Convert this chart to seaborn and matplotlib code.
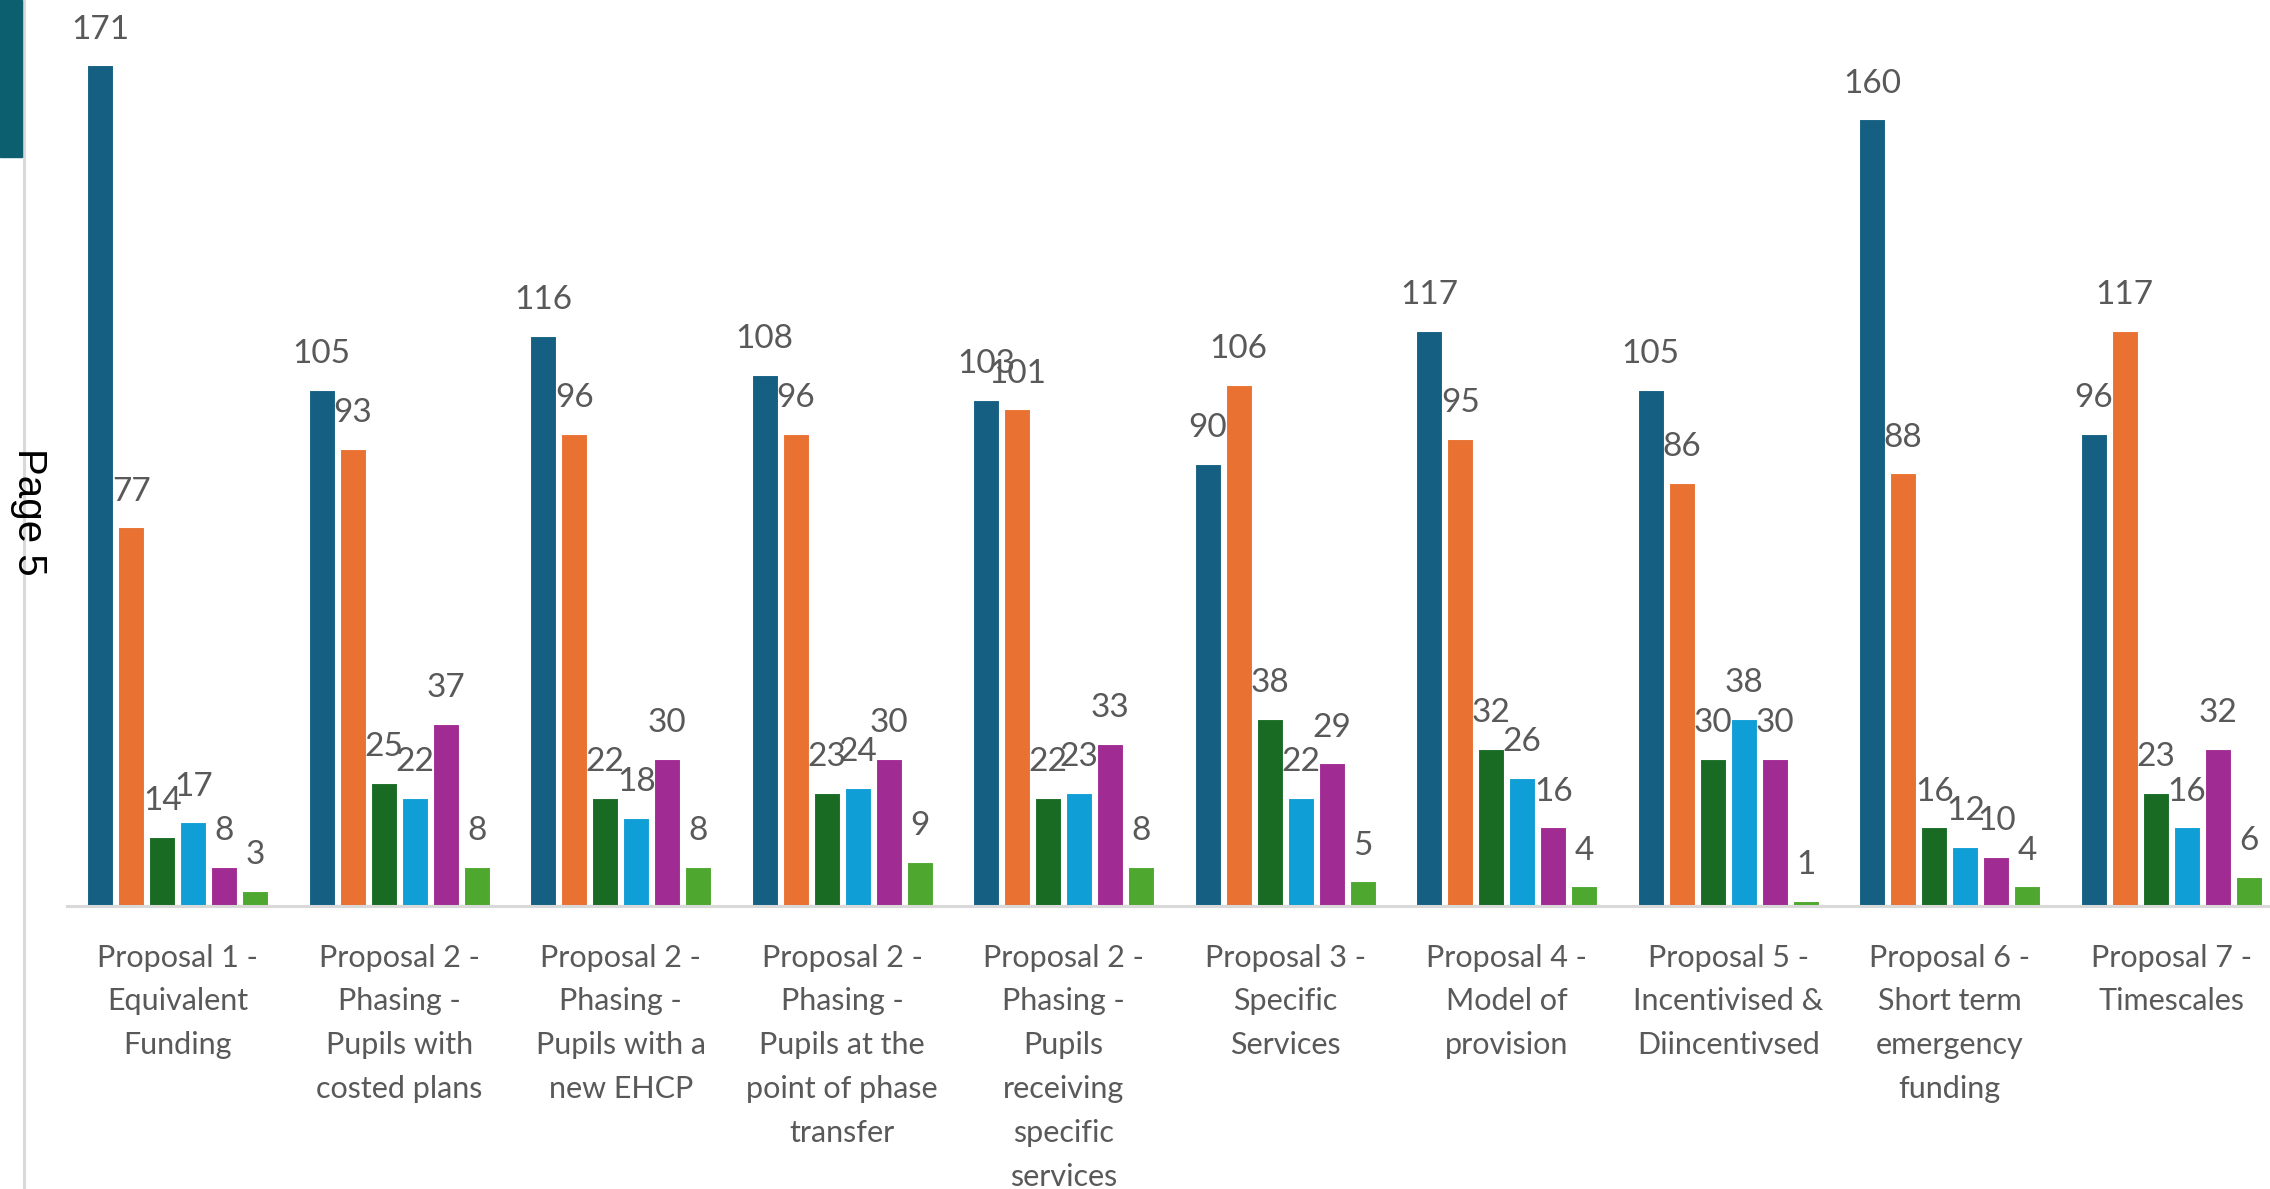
import numpy as np
import pandas as pd
import matplotlib.pyplot as plt
import matplotlib.patches as mpatches
import matplotlib.lines as mlines
import seaborn as sns

# ─── Data ────────────────────────────────────────────────────────────────────
CATEGORIES = [
    "Proposal 1 -\nEquivalent\nFunding",
    "Proposal 2 -\nPhasing -\nPupils with\ncosted plans",
    "Proposal 2 -\nPhasing -\nPupils with a\nnew EHCP",
    "Proposal 2 -\nPhasing -\nPupils at the\npoint of phase\ntransfer",
    "Proposal 2 -\nPhasing -\nPupils\nreceiving\nspecific\nservices",
    "Proposal 3 -\nSpecific\nServices",
    "Proposal 4 -\nModel of\nprovision",
    "Proposal 5 -\nIncentivised &\nDiincentivsed",
    "Proposal 6 -\nShort term\nemergency\nfunding",
    "Proposal 7 -\nTimescales",
]
SERIES = ["Series 1", "Series 2", "Series 3", "Series 4", "Series 5", "Series 6"]

s1 = [171, 105, 116, 108, 103, 90, 117, 105, 160, 96]
s2 = [77, 93, 96, 96, 101, 106, 95, 86, 88, 117]
s3 = [14, 25, 22, 23, 22, 38, 32, 30, 16, 23]
s4 = [17, 22, 18, 24, 23, 22, 26, 38, 12, 16]
s5 = [8, 37, 30, 30, 33, 29, 16, 30, 10, 32]
s6 = [3, 8, 8, 9, 8, 5, 4, 1, 4, 6]

COLORS = ["#156082", "#E97132", "#196B24", "#0F9ED5", "#A02B93", "#4EA72E"]
TEXT = "#595959"
LINE = "#D9D9D9"
TEAL = "#0B5F6E"

rows = []
for name, vals in zip(SERIES, [s1, s2, s3, s4, s5, s6]):
    for cat, v in zip(CATEGORIES, vals):
        rows.append({"category": cat, "series": name, "value": v})
df = pd.DataFrame(rows)

# ─── Style ───────────────────────────────────────────────────────────────────
sns.set_theme(style="white")
plt.rcParams["font.family"] = ["Lato", "DejaVu Sans"]

W, H = 2270, 1189
fig = plt.figure(figsize=(W / 100, H / 100), dpi=100)
fig.patch.set_facecolor("white")

# axes placed so that the right edge runs just past the figure, like the crop
left_px, bottom_px, group_px = 67, H - 906, 221.5
ax = fig.add_axes([left_px / W, bottom_px / H, 10 * group_px / W, 1 - bottom_px / H])

sns.barplot(data=df, x="category", y="value", hue="series", palette=COLORS,
            saturation=1, width=0.84, gap=0.17, edgecolor="white", linewidth=0.8,
            legend=False, ax=ax)

for cont in ax.containers:
    ax.bar_label(cont, padding=15, fontsize=24, color=TEXT)

ax.set_xlim(-0.5, 9.5)
ax.set_ylim(0, 184.3)
ax.set_xlabel("")
ax.set_ylabel("")
ax.set_yticks([])
ax.set_xticks(range(len(CATEGORIES)))
ax.set_xticklabels(CATEGORIES, fontsize=22, color=TEXT, linespacing=1.69, va="top")
ax.tick_params(axis="x", length=0, pad=27)
for side in ["top", "right", "left"]:
    ax.spines[side].set_visible(False)
ax.spines["bottom"].set_color(LINE)
ax.spines["bottom"].set_linewidth(2.2)
ax.set_facecolor("none")

# page decoration on the left edge
fig.patches.append(mpatches.Rectangle((0, 1 - 157 / H), 22 / W, 157 / H,
                                      transform=fig.transFigure, color=TEAL, zorder=5))
fig.lines.append(mlines.Line2D([23.5 / W, 23.5 / W], [0, 1], transform=fig.transFigure,
                               color=LINE, linewidth=2.2, zorder=1))
fig.text(29 / W, 1 - 512 / H, "Page 5", rotation=270, ha="center", va="center",
         fontsize=29, color="black", family=["Liberation Sans", "DejaVu Sans"], zorder=10)

plt.savefig("out.png", dpi=100)
plt.close()
